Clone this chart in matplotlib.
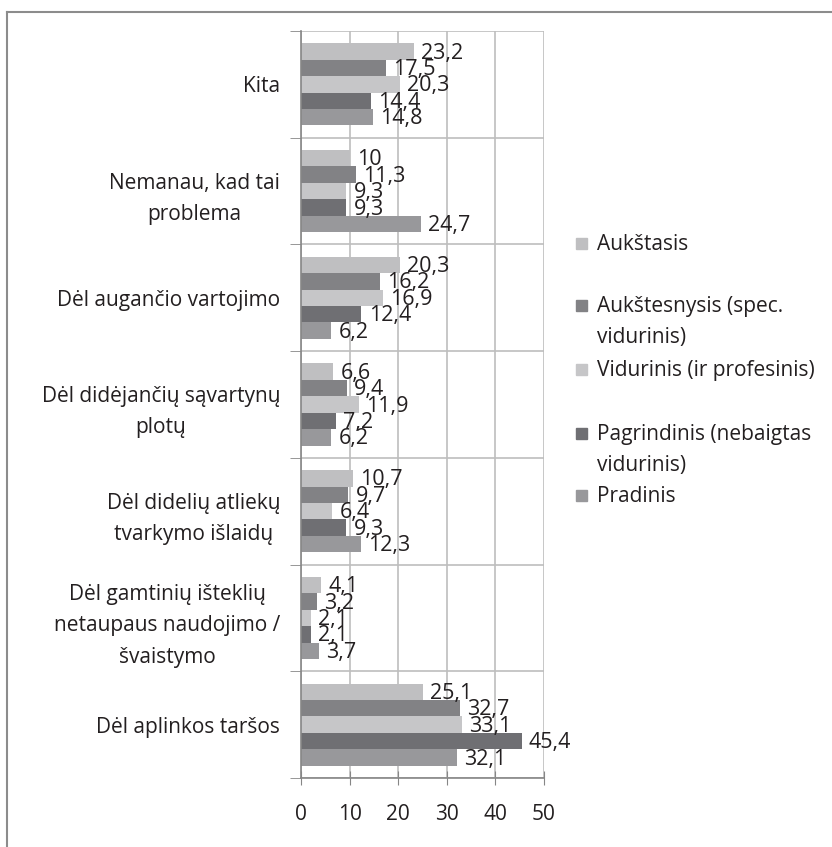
import matplotlib.pyplot as plt
from matplotlib.patches import Rectangle
from matplotlib.lines import Line2D
import numpy as np

plt.rcParams['font.family'] = ['Open Sans', 'DejaVu Sans']

categories = [
    "Kita",
    "Nemanau, kad tai\nproblema",
    "Dėl augančio vartojimo",
    "Dėl didėjančių sąvartynų\nplotų",
    "Dėl didelių atliekų\ntvarkymo išlaidų",
    "Dėl gamtinių išteklių\nnetaupaus naudojimo /\nšvaistymo",
    "Dėl aplinkos taršos",
]
series_names = [
    "Aukštasis",
    "Aukštesnysis (spec.\nvidurinis)",
    "Vidurinis (ir profesinis)",
    "Pagrindinis (nebaigtas\nvidurinis)",
    "Pradinis",
]
aukstasis = [23.2, 10, 20.3, 6.6, 10.7, 4.1, 25.1]
aukstesnysis = [17.5, 11.3, 16.2, 9.4, 9.7, 3.2, 32.7]
vidurinis = [20.3, 9.3, 16.9, 11.9, 6.4, 2.1, 33.1]
pagrindinis = [14.4, 9.3, 12.4, 7.2, 9.3, 2.1, 45.4]
pradinis = [14.8, 24.7, 6.2, 6.2, 12.3, 3.7, 32.1]
series = [aukstasis, aukstesnysis, vidurinis, pagrindinis, pradinis]
colors = ['#bfbfc1', '#828285', '#c6c6c8', '#6f6f73', '#98989b']
txt = '#231f20'

W, H = 832, 847
fig = plt.figure(figsize=(W / 100, H / 100), dpi=100)
ax = fig.add_axes([301 / W, 1 - 778 / H, (544 - 301) / W, (778 - 31) / H])

n = len(categories)
ypos = np.arange(n)
bh = 1 / 1.3 / 5
for i, vals in enumerate(series):
    off = -2.5 * bh + (i + 0.5) * bh
    bars = ax.barh(ypos + off, vals, height=bh, color=colors[i], zorder=2)
    for b, v in zip(bars, vals):
        lab = f"{v:g}".replace('.', ',')
        ax.text(b.get_width() + 1.5, b.get_y() + b.get_height() / 2 + 0.015, lab,
                va='center', ha='left', fontsize=15.5, color=txt, zorder=3)

ax.set_xlim(0, 50)
ax.set_ylim(n - 0.5, -0.5)
ax.set_xticks(range(0, 51, 10))
ax.set_yticks(ypos)
ax.set_yticklabels(categories, multialignment='center', fontsize=15,
                   color=txt, linespacing=1.65)
ax.set_yticks(np.arange(-0.5, n, 1), minor=True)
ax.tick_params(axis='y', which='major', length=0, pad=15)
ax.tick_params(axis='y', which='minor', length=8, color='#868686', direction='out')
ax.tick_params(axis='x', length=10, direction='inout', color='#868686',
               labelsize=15, labelcolor=txt, pad=14)
ax.grid(axis='x', color='#bebebe', linewidth=1.2, zorder=0)
ax.grid(axis='y', which='minor', color='#bebebe', linewidth=1.2, zorder=0)
for s in ['top', 'right']:
    ax.spines[s].set_visible(False)
ax.spines['left'].set_color('#868686')
ax.spines['bottom'].set_color('#868686')
ax.spines['left'].set_linewidth(1.2)
ax.spines['bottom'].set_linewidth(1.2)

# legend
leg_y = [243, 305, 369, 433, 495]
for c, name, yy in zip(colors, series_names, leg_y):
    fig.patches.append(Rectangle((576 / W, 1 - (yy + 6) / H), 11 / W, 11 / H,
                                 transform=fig.transFigure, color=c))
    fig.text(597 / W, 1 - (yy - 9) / H, name, ha='left', va='top',
             fontsize=15, color=txt, linespacing=1.65)

# frame
fig.add_artist(Line2D([7.5 / W, 1], [1 - 12.5 / H, 1 - 12.5 / H],
                      transform=fig.transFigure, color='#8c8c8c', linewidth=1.5))
fig.add_artist(Line2D([7.5 / W, 7.5 / W], [0, 1 - 12.5 / H],
                      transform=fig.transFigure, color='#8c8c8c', linewidth=1.5))

fig.savefig('out.png', dpi=100)
